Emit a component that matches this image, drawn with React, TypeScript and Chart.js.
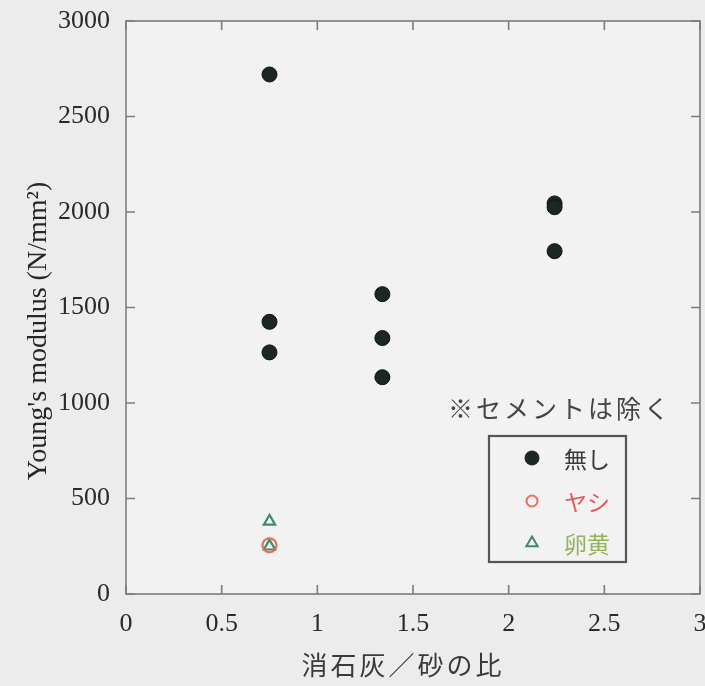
import { useEffect, useRef } from "react";
import { Chart, registerables } from "chart.js";

Chart.register(...registerables);

// Axis ticks
const xTicks = [0, 0.5, 1, 1.5, 2, 2.5, 3];
const yTicks = [0, 500, 1000, 1500, 2000, 2500, 3000];

// 無し (no additive)
const noneX = [0.75, 0.75, 0.75, 1.34, 1.34, 1.34, 2.24, 2.24, 2.24];
const noneY = [2720, 1425, 1265, 1570, 1340, 1135, 2045, 2025, 1795];
// ヤシ
const palmX = [0.75];
const palmY = [255];
// 卵黄
const yolkX = [0.75, 0.75];
const yolkY = [380, 250];

const seriesNames = ["無し", "ヤシ", "卵黄"];
const xTitle = "消石灰／砂の比";
const yTitle = "Young's modulus (N/mm²)";
const note = "※セメントは除く";

const SERIF = "'Liberation Serif', 'Times New Roman', serif";
const CJK = "'Noto Sans CJK JP', sans-serif";

const BLACK = "#1c2624";
const RED = "#e8705c";
const GREEN = "#3f8a68";

const toPoints = (xs: number[], ys: number[]) => xs.map((x, i) => ({ x, y: ys[i] }));

function drawMarker(ctx: CanvasRenderingContext2D, kind: string, x: number, y: number, r: number, fill: string, stroke: string, lw: number) {
  ctx.save();
  ctx.beginPath();
  if (kind === "triangle") {
    let rad = 0;
    ctx.moveTo(x + Math.sin(rad) * r, y - Math.cos(rad) * r);
    for (let i = 0; i < 2; i++) {
      rad += (2 * Math.PI) / 3;
      ctx.lineTo(x + Math.sin(rad) * r, y - Math.cos(rad) * r);
    }
    ctx.closePath();
  } else {
    ctx.arc(x, y, r, 0, Math.PI * 2);
  }
  if (fill !== "transparent") {
    ctx.fillStyle = fill;
    ctx.fill();
  }
  ctx.lineWidth = lw;
  ctx.strokeStyle = stroke;
  ctx.stroke();
  ctx.restore();
}

const paperPlugin = {
  id: "paper",
  beforeDraw(chart: any) {
    const { ctx, width, height, chartArea: a } = chart;
    ctx.save();
    ctx.fillStyle = "#ececec";
    ctx.fillRect(0, 0, width, height);
    ctx.fillStyle = "#f2f2f2";
    ctx.fillRect(a.left, a.top, a.right - a.left, a.bottom - a.top);
    ctx.restore();
  },
};

const framePlugin = {
  id: "frame",
  beforeDatasetsDraw(chart: any) {
    const { ctx, chartArea: a, scales } = chart;
    const x = scales.x;
    const y = scales.y;
    ctx.save();
    ctx.strokeStyle = "#7c7c7c";
    ctx.lineWidth = 1.6;
    ctx.strokeRect(a.left, a.top, a.right - a.left, a.bottom - a.top);
    const len = 9;
    ctx.beginPath();
    xTicks.forEach((v) => {
      const px = x.getPixelForValue(v);
      ctx.moveTo(px, a.bottom);
      ctx.lineTo(px, a.bottom - len);
      ctx.moveTo(px, a.top);
      ctx.lineTo(px, a.top + len);
    });
    yTicks.forEach((v) => {
      const py = y.getPixelForValue(v);
      ctx.moveTo(a.left, py);
      ctx.lineTo(a.left + len, py);
      ctx.moveTo(a.right, py);
      ctx.lineTo(a.right - len, py);
    });
    ctx.stroke();
    ctx.restore();
  },
};

const textPlugin = {
  id: "texts",
  afterDatasetsDraw(chart: any) {
    const { ctx } = chart;
    ctx.save();

    // y-axis title
    ctx.fillStyle = "#262626";
    ctx.font = `28px ${SERIF}`;
    ctx.textAlign = "center";
    ctx.textBaseline = "middle";
    ctx.translate(39, 331);
    ctx.rotate(-Math.PI / 2);
    ctx.fillText(yTitle, 0, 0);
    ctx.setTransform(1, 0, 0, 1, 0, 0);

    // x-axis title
    ctx.font = `26px ${CJK}`;
    (ctx as any).letterSpacing = "3px";
    ctx.fillStyle = "#3a3a3a";
    ctx.textAlign = "center";
    ctx.fillText(xTitle, 403, 665);

    // note
    ctx.font = `25px ${CJK}`;
    (ctx as any).letterSpacing = "3px";
    ctx.textAlign = "left";
    ctx.fillStyle = "#444";
    ctx.fillText(note, 448, 408);
    (ctx as any).letterSpacing = "0px";

    // legend box
    const bx = 489, by = 436, bw = 137, bh = 126;
    ctx.strokeStyle = "#555";
    ctx.lineWidth = 2.2;
    ctx.strokeRect(bx, by, bw, bh);

    const rows = [458, 501, 543];
    const styles = [
      { kind: "circle", fill: BLACK, stroke: BLACK, r: 7, lw: 1, color: "#3a3a3a" },
      { kind: "circle", fill: "transparent", stroke: RED, r: 5.5, lw: 2, color: "#e45a58" },
      { kind: "triangle", fill: "transparent", stroke: GREEN, r: 6.5, lw: 2, color: "#93b35a" },
    ];
    ctx.font = `23px ${CJK}`;
    ctx.textAlign = "left";
    ctx.textBaseline = "middle";
    styles.forEach((s, i) => {
      drawMarker(ctx, s.kind, 532, rows[i], s.r, s.fill, s.stroke, s.lw);
      ctx.fillStyle = s.color;
      ctx.fillText(seriesNames[i], 564, rows[i] + 1);
    });

    ctx.restore();
  },
};

export default function App() {
  const canvasRef = useRef<HTMLCanvasElement | null>(null);

  useEffect(() => {
    const canvas = canvasRef.current;
    if (!canvas) return;
    const chart = new Chart(canvas, {
      type: "scatter",
      data: {
        datasets: [
          {
            label: seriesNames[0],
            data: toPoints(noneX, noneY),
            pointStyle: "circle",
            pointRadius: 7.5,
            pointBackgroundColor: BLACK,
            pointBorderColor: "#111",
            pointBorderWidth: 1,
          },
          {
            label: seriesNames[1],
            data: toPoints(palmX, palmY),
            pointStyle: "circle",
            pointRadius: 7,
            pointBackgroundColor: "transparent",
            pointBorderColor: RED,
            pointBorderWidth: 2.2,
          },
          {
            label: seriesNames[2],
            data: toPoints(yolkX, yolkY),
            pointStyle: "triangle",
            pointRadius: 6.5,
            pointBackgroundColor: "transparent",
            pointBorderColor: GREEN,
            pointBorderWidth: 2.2,
          },
        ],
      },
      options: {
        responsive: false,
        animation: false,
        devicePixelRatio: 1,
        layout: { autoPadding: false, padding: { left: 0, right: 5, top: 21, bottom: 0 } },
        plugins: {
          legend: { display: false },
          tooltip: { enabled: false },
        },
        scales: {
          x: {
            type: "linear",
            min: 0,
            max: 3,
            afterFit: (s: any) => {
              s.height = 92;
              s.paddingLeft = 0;
              s.paddingRight = 0;
            },
            afterBuildTicks: (s: any) => {
              s.ticks = xTicks.map((v) => ({ value: v }));
            },
            ticks: {
              padding: 15,
              color: "#2a2a2a",
              font: { family: SERIF, size: 26 },
              maxRotation: 0,
              callback: (v: any) => String(v),
            },
            grid: { display: false, drawTicks: false },
            border: { display: false },
          },
          y: {
            type: "linear",
            min: 0,
            max: 3000,
            afterFit: (s: any) => {
              s.width = 126;
              s.paddingTop = 0;
              s.paddingBottom = 0;
            },
            afterBuildTicks: (s: any) => {
              s.ticks = yTicks.map((v) => ({ value: v }));
            },
            ticks: {
              padding: 16,
              color: "#2a2a2a",
              font: { family: SERIF, size: 26 },
              callback: (v: any) => String(v),
            },
            grid: { display: false, drawTicks: false },
            border: { display: false },
          },
        },
      },
      plugins: [paperPlugin, framePlugin, textPlugin],
    });
    return () => chart.destroy();
  }, []);

  return (
    <div style={{ position: "fixed", left: 0, top: 0, width: 705, height: 686 }}>
      <canvas ref={canvasRef} width={705} height={686} />
    </div>
  );
}
